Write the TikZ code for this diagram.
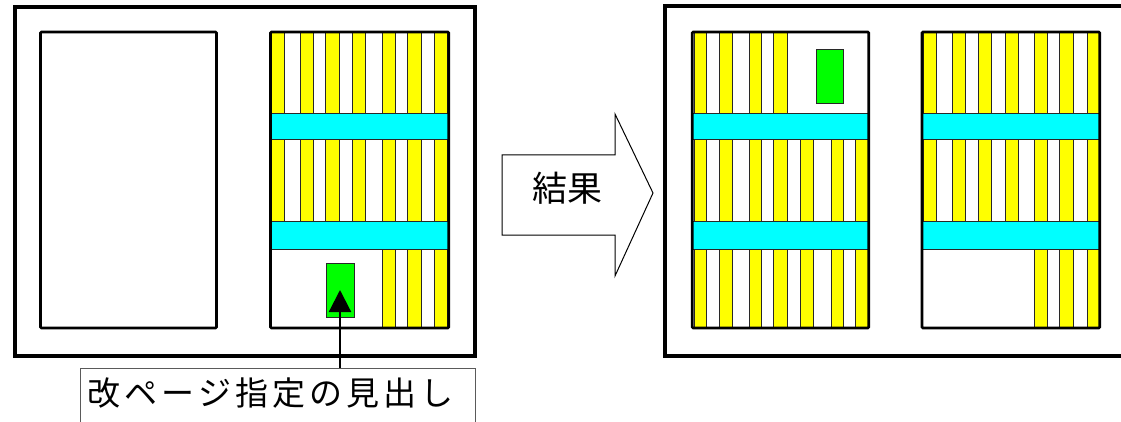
\documentclass[tikz,border=0pt]{standalone}
\usepackage{fontspec}
\newfontfamily\jpfont{Noto Sans CJK JP}
\usetikzlibrary{arrows.meta}
\definecolor{yel}{RGB}{255,255,0}
\definecolor{cya}{RGB}{0,255,255}
\definecolor{grn}{RGB}{0,255,0}
\definecolor{stroke}{RGB}{40,40,40}
\definecolor{boxline}{RGB}{90,90,90}
\newcommand{\ch}[1]{\makebox[37pt]{#1}}
\begin{document}
\begin{tikzpicture}[x=1pt,y=-1pt,
  frame/.style={draw=black,line width=4pt},
  page/.style={draw=black,line width=2.6pt,rounded corners=1pt},
  stripe/.style={fill=yel,draw=stroke,line width=0.9pt},
  band/.style={fill=cya,draw=stroke,line width=0.9pt},
  greenbox/.style={rectangle,fill=grn,draw=stroke,line width=0.9pt,inner sep=0pt,minimum width=28pt,minimum height=54pt},
  bigarrow/.style={draw=black,line width=1pt,fill=white,line join=miter},
  conn/.style={draw=black,line width=2.2pt,-{Triangle[length=22pt,width=22pt]}}
]
\useasboundingbox (0,0) rectangle (1121,422);
\clip (0,0) rectangle (1121,422);
\fill[white] (0,0) rectangle (1121,422);

% ---------- left frame ----------
\draw[frame] (15,7) rectangle (475,356);
\draw[page] (40.5,32) rectangle (216.5,328);

% page L2
\fill[white] (270.5,32) rectangle (448.7,328);
\foreach \a/\b in {271/284,300/313,325/339,352/365,382/395,407/421,434/447}{
  \draw[stripe] (\a,32) rectangle (\b,113);
  \draw[stripe] (\a,139.5) rectangle (\b,221.5);
}
\foreach \a/\b in {382/395,407/421,434/447}{
  \draw[stripe] (\a,249) rectangle (\b,328);
}
\draw[band] (270.5,113) rectangle (448.7,139.5);
\draw[band] (270.5,221.5) rectangle (448.7,249);
\node[greenbox] (gL) at (340,290) {};
\draw[page] (270.5,32) rectangle (448.7,328);

% ---------- label and connector ----------
\node[draw=boxline,line width=1pt,anchor=north west,inner xsep=5pt,inner ysep=0pt,
      text width=385pt,align=left,text height=36.5pt,text depth=33.5pt,
      font=\jpfont\fontsize{33}{33}\selectfont] (lbl) at (80,368)
  {\ch{改}\ch{ペ}\ch{ー}\ch{ジ}\ch{指}\ch{定}\ch{の}\ch{見}\ch{出}\ch{し}};
\draw[conn] (lbl.north -| gL.center) -- (gL.center);

% ---------- result arrow ----------
\draw[bigarrow] (502,155) -- (615,155) -- (615,114) -- (653,193) -- (615,276) -- (615,235) -- (502,235) -- cycle;
\node[font=\jpfont\fontsize{35}{35}\selectfont,inner sep=0pt] (res) at (567.5,188) {結果};

% ---------- right frame ----------
\draw[frame] (665,6.5) rectangle (1140,356);

% page R1
\fill[white] (692.2,32) rectangle (868.7,328);
\foreach \a/\b in {694/706,719/732,749/761,773/787}{
  \draw[stripe] (\a,32) rectangle (\b,113);
}
\foreach \a/\b in {694/706,719/732,749/761,773/787,800/813,831/843,855/868}{
  \draw[stripe] (\a,139.5) rectangle (\b,221.5);
  \draw[stripe] (\a,249) rectangle (\b,328);
}
\draw[band] (692.2,113) rectangle (868.7,139.5);
\draw[band] (692.2,221.5) rectangle (868.7,249);
\node[greenbox,minimum width=27pt] (gR) at (829.5,76) {};
\draw[page] (692.2,32) rectangle (868.7,328);

% page R2
\fill[white] (922,32) rectangle (1099.7,328);
\foreach \a/\b in {923/936,952/965,978/991,1005/1018,1034/1047,1059/1073,1087/1099}{
  \draw[stripe] (\a,32) rectangle (\b,113);
  \draw[stripe] (\a,139.5) rectangle (\b,221.5);
}
\foreach \a/\b in {1034/1047,1059/1073,1087/1099}{
  \draw[stripe] (\a,249) rectangle (\b,328);
}
\draw[band] (922,113) rectangle (1099.7,139.5);
\draw[band] (922,221.5) rectangle (1099.7,249);
\draw[page] (922,32) rectangle (1099.7,328);
\end{tikzpicture}
\end{document}
